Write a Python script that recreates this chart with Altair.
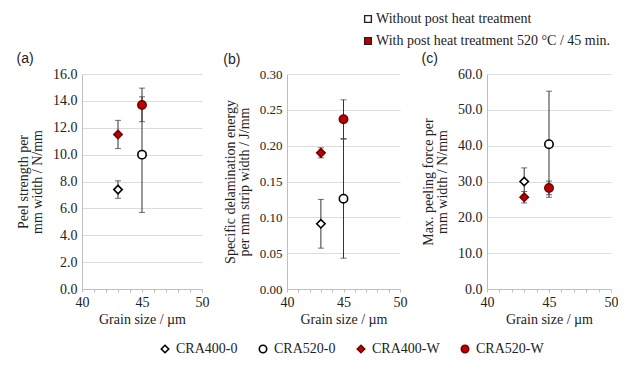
import altair as alt
import pandas as pd

# ---- data ----
series = ["CRA400-0", "CRA520-0", "CRA400-W", "CRA520-W"]
grain = [43, 45, 43, 45]
peel = [7.4, 10.0, 11.5, 13.7]
peel_err = [0.65, 4.3, 1.05, 1.25]
energy = [0.091, 0.126, 0.190, 0.237]
energy_err = [0.034, 0.083, 0.007, 0.027]
force = [30.0, 40.4, 25.6, 28.2]
force_err = [3.8, 14.8, 1.6, 1.9]
treatments = ["Without post heat treatment", "With post heat treatment 520 °C / 45 min."]

fills = ["white", "white", "#c00000", "#c00000"]
strokes = ["black", "black", "#6e0000", "#6e0000"]
shapes = ["diamond", "circle", "diamond", "circle"]

df = pd.DataFrame({
    "series": series, "grain": grain,
    "peel": peel, "peel_lo": [v - e for v, e in zip(peel, peel_err)], "peel_hi": [v + e for v, e in zip(peel, peel_err)],
    "energy": energy, "energy_lo": [v - e for v, e in zip(energy, energy_err)], "energy_hi": [v + e for v, e in zip(energy, energy_err)],
    "force": force, "force_lo": [v - e for v, e in zip(force, force_err)], "force_hi": [v + e for v, e in zip(force, force_err)],
})

SERIF = "Liberation Serif"
SANS = "Liberation Sans"
TXT = "#222222"


def panel(col, dom, ticks, fmt, ytitle, tag, width, lsize):
    xaxis = alt.Axis(values=list(range(40, 51)),
                     labelExpr="datum.value % 5 == 0 ? datum.label : ''",
                     title="Grain size / µm", grid=False, tickSize=3, tickColor="#bfbfbf",
                     domainColor="#bfbfbf", labelFont=SERIF, labelFontSize=14, labelColor=TXT,
                     titleFont=SERIF, titleFontSize=14, titleFontWeight="normal", titleColor=TXT,
                     labelPadding=3, titlePadding=3,
                     labelOverlap=False, labelFlush=False, labelBound=False)
    yaxis = alt.Axis(values=ticks, format=fmt, title=ytitle, grid=True, gridColor="#dcdcdc",
                     ticks=False, domainColor="#bfbfbf", labelFont=SERIF, labelFontSize=lsize,
                     labelColor=TXT, labelPadding=5, titleFont=SERIF, titleFontSize=14,
                     titleLineHeight=14, titleFontWeight="normal", titleColor=TXT, titlePadding=8,
                     labelOverlap=False, labelFlush=False, labelBound=False)
    xs = alt.Scale(domain=[40, 50], nice=False, zero=False)
    ys = alt.Scale(domain=dom, nice=False)
    X = alt.X("grain:Q", scale=xs, axis=xaxis)
    base = alt.Chart(df)
    rule = base.mark_rule(color="#333333", strokeWidth=1).encode(
        x=X, y=alt.Y(f"{col}_lo:Q", scale=ys, axis=yaxis), y2=f"{col}_hi:Q")
    cap_lo = base.mark_tick(orient="horizontal", size=6, thickness=1, color="#333333").encode(
        x=X, y=alt.Y(f"{col}_lo:Q", scale=ys, axis=yaxis))
    cap_hi = base.mark_tick(orient="horizontal", size=6, thickness=1, color="#333333").encode(
        x=X, y=alt.Y(f"{col}_hi:Q", scale=ys, axis=yaxis))
    pts = base.mark_point(filled=True, opacity=1, size=70, strokeWidth=1.6).encode(
        x=X, y=alt.Y(f"{col}:Q", scale=ys, axis=yaxis),
        shape=alt.Shape("series:N", scale=alt.Scale(domain=series, range=shapes), title=None),
        fill=alt.Fill("series:N", scale=alt.Scale(domain=series, range=fills), title=None),
        stroke=alt.Stroke("series:N", scale=alt.Scale(domain=series, range=strokes), title=None),
    )
    return alt.layer(rule, cap_lo, cap_hi, pts).properties(
        width=width, height=215,
        title=alt.TitleParams(tag, anchor="start", font=SANS, fontSize=14, fontWeight="normal",
                              color=TXT, offset=1))


pa = panel("peel", [0, 16], [0, 2, 4, 6, 8, 10, 12, 14, 16], ".1f",
           ["Peel strength per", "mm width / N/mm"], "(a)", 120, 14)
pb = panel("energy", [0, 0.30], [0, 0.05, 0.10, 0.15, 0.20, 0.25, 0.30], ".2f",
           ["Specific delamination energy", "per mm strip width / J/mm"], "(b)", 113, 13)
pc = panel("force", [0, 60], [0, 10, 20, 30, 40, 50, 60], ".1f",
           ["Max. peeling force per", "mm width / N/mm"], "(c)", 124, 14)

panels = alt.hconcat(pa, pb, pc, spacing=14)

tdf = pd.DataFrame({"t": treatments, "k": [0, 1]})
tbase = alt.Chart(tdf)
ty = alt.Y("t:N", sort=treatments, axis=None, scale=alt.Scale(paddingOuter=0.5, paddingInner=0))
tsq0 = tbase.transform_filter("datum.k == 0").mark_square(
    size=45, stroke="#222222", strokeWidth=1.4, opacity=1, fill="white").encode(x=alt.value(286), y=ty)
tsq1 = tbase.transform_filter("datum.k == 1").mark_square(
    size=45, stroke="#222222", strokeWidth=1.4, opacity=1, fill="#c00000").encode(x=alt.value(286), y=ty)
ttx = tbase.mark_text(align="left", baseline="middle", font=SERIF, fontSize=14, color=TXT).encode(
    x=alt.value(294), y=ty, text="t:N")
top = alt.layer(tsq0, tsq1, ttx).properties(width=460, height=44)

chart = alt.vconcat(top, panels, spacing=0).properties(
    padding={"left": 8, "top": 0, "right": 0, "bottom": 0}
).configure(font=SERIF).configure_view(stroke=None).configure_legend(
    orient="none", legendX=76, legendY=334, direction="horizontal",
    labelFont=SERIF, labelFontSize=14, labelColor=TXT,
    symbolSize=55, symbolStrokeWidth=1.6, columnPadding=18, labelOffset=4
)

chart.save("out.html", embed_options={"renderer": "svg", "actions": False})
